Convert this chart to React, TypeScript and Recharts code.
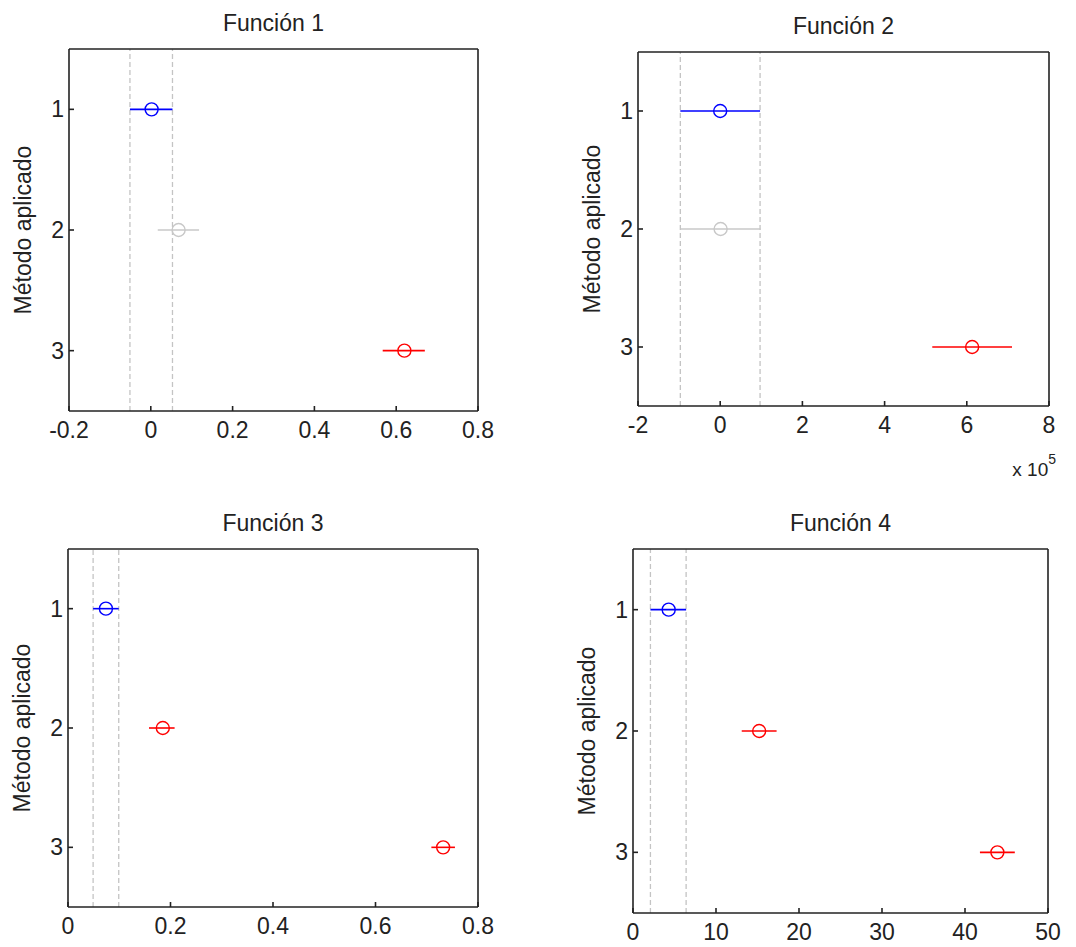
import { ScatterChart, Scatter, XAxis, YAxis, ErrorBar, ReferenceLine, Label } from "recharts";

// rows of every panel (método aplicado)
const methods = [1, 2, 3];
const methodTicks = [1, 2, 3];

const BLUE = "#0000ff";
const GRAY = "#c8c8c8";
const RED = "#ff0000";

// Función 1
const f1Means = [0.002, 0.068, 0.62];
const f1Low = [-0.051, 0.017, 0.567];
const f1High = [0.053, 0.118, 0.67];
const f1Colors = [BLUE, GRAY, RED];
const f1Ticks = [-0.2, 0, 0.2, 0.4, 0.6, 0.8];

// Función 2 (valores reales, eje en unidades de 10^5)
const f2Means = [0, 1000, 613000];
const f2Low = [-97000, -96000, 516000];
const f2High = [97000, 98000, 710000];
const f2Colors = [BLUE, GRAY, RED];
const f2Ticks = [-200000, 0, 200000, 400000, 600000, 800000];

// Función 3
const f3Means = [0.074, 0.185, 0.732];
const f3Low = [0.049, 0.158, 0.709];
const f3High = [0.099, 0.208, 0.755];
const f3Colors = [BLUE, RED, RED];
const f3Ticks = [0, 0.2, 0.4, 0.6, 0.8];

// Función 4
const f4Means = [4.3, 15.2, 43.9];
const f4Low = [2.1, 13.1, 41.8];
const f4High = [6.4, 17.3, 46.0];
const f4Colors = [BLUE, RED, RED];
const f4Ticks = [0, 10, 20, 30, 40, 50];

const FONT = "Liberation Sans, Arial, sans-serif";
const INK = "#222222";
const Y_AXIS_W = 60;
const X_AXIS_H = 80;
const TOP_PAD = 40;

interface PanelProps {
  title: string;
  means: number[];
  low: number[];
  high: number[];
  colors: string[];
  ticks: number[];
  left: number;
  top: number;
  plotW: number;
  plotH: number;
  scale?: number;
  exponent?: string;
}

function Panel(p: PanelProps) {
  const scale = p.scale ?? 1;
  const fmt = (v: number) => String(Math.round((v / scale) * 1000) / 1000);
  const domain = [p.ticks[0], p.ticks[p.ticks.length - 1]];
  const width = Y_AXIS_W + p.plotW + 1 + 34;
  const height = TOP_PAD + 1 + p.plotH + X_AXIS_H;
  const axisProps = { stroke: INK, strokeWidth: 1.6 };

  return (
    <div
      style={{
        position: "absolute",
        left: p.left - Y_AXIS_W,
        top: p.top - 1 - TOP_PAD,
      }}
    >
      <ScatterChart
        width={width}
        height={height}
        margin={{ top: TOP_PAD, right: 34, bottom: 0, left: 0 }}
      >
        <XAxis
          type="number"
          dataKey="x"
          domain={domain}
          ticks={p.ticks}
          interval={0}
          tickFormatter={fmt}
          height={X_AXIS_H}
          axisLine={axisProps}
          tickLine={axisProps}
          tickSize={-5}
          tickMargin={16}
          tick={{ fontSize: 23, fill: INK, fontFamily: FONT }}
        >
          {p.exponent && (
            <Label
              content={(props: any) => {
                const vb = props.viewBox;
                return (
                  <text
                    x={vb.x + vb.width + 7}
                    y={vb.y + 70}
                    textAnchor="end"
                    fontSize={19}
                    fill={INK}
                    fontFamily={FONT}
                  >
                    x 10
                    <tspan dy={-12} fontSize={14}>
                      {p.exponent}
                    </tspan>
                  </text>
                );
              }}
            />
          )}
        </XAxis>
        <XAxis
          xAxisId="top"
          orientation="top"
          type="number"
          domain={domain}
          ticks={p.ticks}
          interval={0}
          height={1}
          axisLine={axisProps}
          tickLine={axisProps}
          tickSize={-5}
          tick={false}
        >
          <Label
            content={(props: any) => {
              const vb = props.viewBox;
              return (
                <text
                  x={vb.x + vb.width / 2}
                  y={vb.y - 17.5}
                  textAnchor="middle"
                  fontSize={23}
                  fill={INK}
                  fontFamily={FONT}
                >
                  {p.title}
                </text>
              );
            }}
          />
        </XAxis>
        <YAxis
          type="number"
          dataKey="y"
          domain={[0.5, 3.5]}
          ticks={methodTicks}
          interval={0}
          reversed
          width={Y_AXIS_W}
          axisLine={axisProps}
          tickLine={axisProps}
          tickSize={-5}
          tickMargin={10}
          tick={{ fontSize: 23, fill: INK, fontFamily: FONT }}
        >
          <Label
            content={(props: any) => {
              const vb = props.viewBox;
              const cx = vb.x + 14;
              const cy = vb.y + vb.height / 2;
              return (
                <text
                  x={cx}
                  y={cy}
                  transform={`rotate(-90 ${cx} ${cy})`}
                  textAnchor="middle"
                  dominantBaseline="central"
                  fontSize={23}
                  fill={INK}
                  fontFamily={FONT}
                >
                  Método aplicado
                </text>
              );
            }}
          />
        </YAxis>
        <YAxis
          yAxisId="right"
          orientation="right"
          type="number"
          domain={[0.5, 3.5]}
          ticks={methodTicks}
          interval={0}
          reversed
          width={1}
          axisLine={axisProps}
          tickLine={axisProps}
          tickSize={-5}
          tick={false}
        />
        <ReferenceLine x={p.low[0]} stroke="#c4c4c4" strokeWidth={1.3} strokeDasharray="5 3" />
        <ReferenceLine x={p.high[0]} stroke="#c4c4c4" strokeWidth={1.3} strokeDasharray="5 3" />
        {methods.map((m, i) => {
          const color = p.colors[i];
          const row = [
            { x: p.means[i], y: m, err: [p.means[i] - p.low[i], p.high[i] - p.means[i]] },
          ];
          return (
            <Scatter
              key={m}
              data={row}
              isAnimationActive={false}
              shape={(s: any) => (
                <circle cx={s.cx} cy={s.cy} r={6.5} fill="none" stroke={color} strokeWidth={1.4} />
              )}
            >
              <ErrorBar
                dataKey="err"
                direction="x"
                width={0}
                stroke={color}
                strokeWidth={1.6}
                isAnimationActive={false}
              />
            </Scatter>
          );
        })}
      </ScatterChart>
    </div>
  );
}

export default function App() {
  return (
    <div
      style={{
        position: "absolute",
        left: 0,
        top: 0,
        width: 1076,
        height: 947,
        background: "#ffffff",
      }}
    >
      <Panel
        title="Función 1"
        means={f1Means}
        low={f1Low}
        high={f1High}
        colors={f1Colors}
        ticks={f1Ticks}
        left={69}
        top={49}
        plotW={409}
        plotH={362}
      />
      <Panel
        title="Función 2"
        means={f2Means}
        low={f2Low}
        high={f2High}
        colors={f2Colors}
        ticks={f2Ticks}
        left={638}
        top={52}
        plotW={411}
        plotH={354}
        scale={100000}
        exponent="5"
      />
      <Panel
        title="Función 3"
        means={f3Means}
        low={f3Low}
        high={f3High}
        colors={f3Colors}
        ticks={f3Ticks}
        left={68}
        top={549}
        plotW={410}
        plotH={358}
      />
      <Panel
        title="Función 4"
        means={f4Means}
        low={f4Low}
        high={f4High}
        colors={f4Colors}
        ticks={f4Ticks}
        left={633}
        top={549}
        plotW={415}
        plotH={364}
      />
    </div>
  );
}
